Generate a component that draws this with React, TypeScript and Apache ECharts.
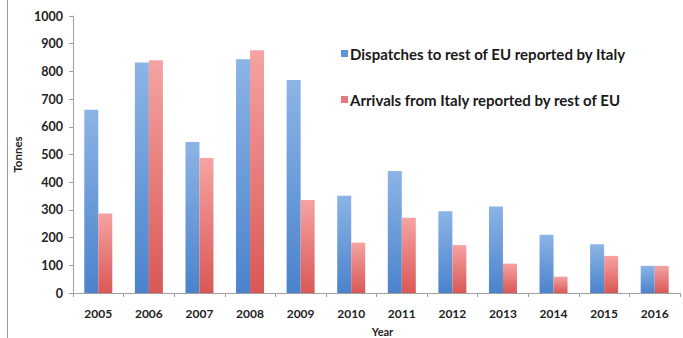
import React, { useEffect, useRef } from "react";
import * as echarts from "echarts";

const years = ["2005", "2006", "2007", "2008", "2009", "2010", "2011", "2012", "2013", "2014", "2015", "2016"];
const dispatches = [662, 832, 545, 844, 769, 351, 440, 295, 312, 210, 176, 98];
const arrivals = [287, 840, 487, 876, 336, 182, 272, 173, 106, 59, 134, 98];
const yTicks = { min: 0, max: 1000, interval: 100 };

export default function App() {
  const ref = useRef<HTMLDivElement>(null);
  useEffect(() => {
    if (!ref.current) return;
    const chart = echarts.init(ref.current, null, { renderer: "svg" });
    const blue = new echarts.graphic.LinearGradient(0, 0, 0, 1, [
      { offset: 0, color: "#8cb4e6" },
      { offset: 1, color: "#4a83cc" },
    ]);
    const red = new echarts.graphic.LinearGradient(0, 0, 0, 1, [
      { offset: 0, color: "#f5a3a3" },
      { offset: 1, color: "#d95855" },
    ]);
    chart.setOption({
      animation: false,
      backgroundColor: "#ffffff",
      textStyle: { fontFamily: "Lato" },
      grid: { left: 73, right: 3, top: 16, bottom: 45, containLabel: false, outerBoundsMode: "none" },
      legend: {
        orient: "vertical",
        left: 336,
        top: 41,
        itemGap: 31,
        itemWidth: 7,
        itemHeight: 7,
        icon: "rect",
        textStyle: { fontFamily: "Lato", fontWeight: "bold", fontSize: 15, color: "#1a1a1a", padding: [0, 0, 0, -3] },
        data: [
          { name: "Dispatches to rest of EU reported by Italy", itemStyle: { color: "#5f95d8" } },
          { name: "Arrivals from Italy reported by rest of EU", itemStyle: { color: "#e8797a" } },
        ],
      },
      xAxis: {
        type: "category",
        data: years,
        name: "Year",
        nameLocation: "middle",
        nameGap: 33,
        nameTextStyle: { fontFamily: "Lato", fontWeight: "bold", fontSize: 11, color: "#222", padding: [0, 0, 0, 12] },
        axisLine: { lineStyle: { color: "#a0a0a0" } },
        axisTick: { show: true, alignWithLabel: false, length: 4, lineStyle: { color: "#a0a0a0" } },
        axisLabel: { fontFamily: "Lato", fontWeight: "bold", fontSize: 12, color: "#222", margin: 14 },
      },
      yAxis: {
        type: "value",
        min: yTicks.min,
        max: yTicks.max,
        interval: yTicks.interval,
        name: "Tonnes",
        nameLocation: "middle",
        nameGap: 49,
        nameTextStyle: { fontFamily: "Lato", fontWeight: "bold", fontSize: 11.5, color: "#222" },
        axisLine: { show: true, lineStyle: { color: "#a0a0a0" } },
        axisTick: { show: true, length: 4, lineStyle: { color: "#a0a0a0" } },
        splitLine: { show: false },
        axisLabel: {
          fontFamily: "Lato",
          fontWeight: "bold",
          fontSize: 12.5,
          color: "#222",
          margin: 10,
          formatter: (v: number) => String(v),
        },
      },
      series: [
        {
          name: "Dispatches to rest of EU reported by Italy",
          type: "bar",
          data: dispatches,
          barWidth: 14,
          barGap: "0%",
          itemStyle: { color: blue },
        },
        {
          name: "Arrivals from Italy reported by rest of EU",
          type: "bar",
          data: arrivals,
          barWidth: 14,
          barGap: "0%",
          itemStyle: { color: red },
        },
      ],
      graphic: [
        {
          type: "line",
          shape: { x1: 7.5, y1: 0, x2: 7.5, y2: 338 },
          style: { stroke: "#9a9a9a", lineWidth: 1 },
        },
      ],
    });
    return () => chart.dispose();
  }, []);
  return (
    <div
      ref={ref}
      style={{ position: "fixed", left: 0, top: 0, width: 683, height: 338, background: "#fff" }}
    />
  );
}
